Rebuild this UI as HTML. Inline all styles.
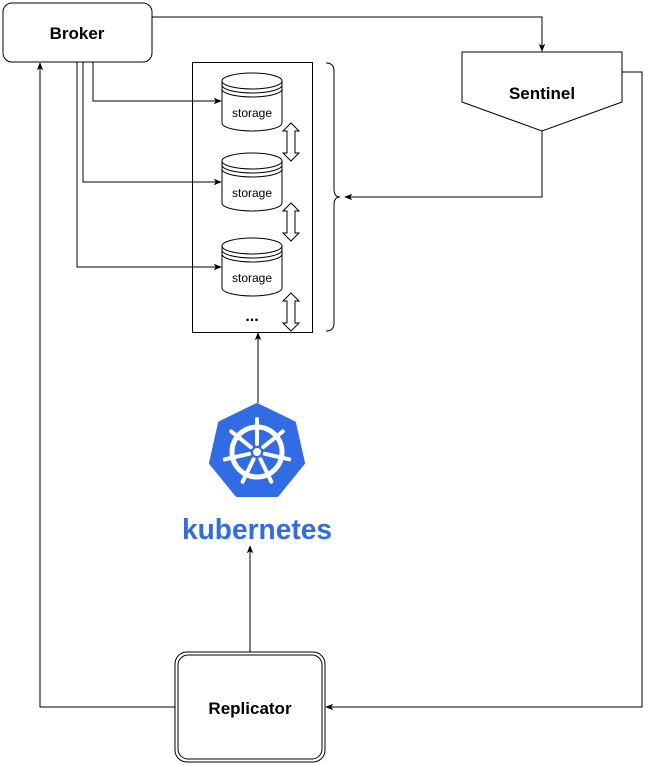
<!DOCTYPE html>
<html><head><style>body{margin:0;background:#fff}svg{display:block}</style></head><body>
<svg width="653" height="765" xmlns="http://www.w3.org/2000/svg" font-family="Liberation Sans, sans-serif">
<defs>
<marker id="a" viewBox="0 0 10 10" refX="9" refY="5" markerWidth="8" markerHeight="8" orient="auto"><path d="M0,1 L10,5 L0,9 L2.5,5 z" fill="#000"/></marker>
<g id="cyl">
<path d="M0,8 v42 a30,8 0 0 0 60,0 v-42" fill="#fff" stroke="#000"/>
<ellipse cx="30" cy="8" rx="30" ry="8" fill="#fff" stroke="#000"/>
<path d="M0,12 a30,8 0 0 0 60,0 M0,16 a30,8 0 0 0 60,0" fill="none" stroke="#000"/>
</g>
<path id="darr" d="M0,0 l8,8 h-4 v22 h4 l-8,8 l-8,-8 h4 v-22 h-4 z" fill="#fff" stroke="#000"/>
</defs>
<g fill="none" stroke="#000" stroke-width="1">
<rect x="3" y="3" width="149" height="59" rx="9" fill="#fff"/>
<path d="M462,52 H622 V102 L542,131 L462,102 Z" fill="#fff"/>
<path d="M152,17 H542 V51" marker-end="url(#a)"/>
<path d="M622,72 H642 V707 H326" marker-end="url(#a)"/>
<path d="M542,131 V197 H345" marker-end="url(#a)"/>
<path d="M93,62 V101 H221" marker-end="url(#a)"/>
<path d="M83,62 V182 H221" marker-end="url(#a)"/>
<path d="M77,62 V267 H221" marker-end="url(#a)"/>
<rect x="192.5" y="62.5" width="120" height="270"/>
<path d="M326,63 q8,0 8,8 v118 q0,8 6,8 q-6,0 -6,8 v118 q0,8 -8,8"/>
<path d="M258,403 V333" marker-end="url(#a)"/>
<path d="M250,652 V546" marker-end="url(#a)"/>
<path d="M175,707 H40 V63" marker-end="url(#a)"/>
<rect x="175" y="652" width="150" height="110" rx="12" fill="#fff"/>
<rect x="178" y="655" width="144" height="104" rx="10"/>
</g>
<use href="#cyl" x="222" y="73"/>
<use href="#cyl" x="222" y="153"/>
<use href="#cyl" x="222" y="238"/>
<use href="#darr" x="291" y="123"/>
<use href="#darr" x="291" y="203"/>
<use href="#darr" x="291" y="293"/>
<g font-size="12" text-anchor="middle" fill="#000">
<text x="252" y="117">storage</text>
<text x="252" y="197">storage</text>
<text x="252" y="282">storage</text>
</g>
<text x="252" y="321" font-size="16" font-weight="bold" text-anchor="middle">...</text>
<g font-size="17" font-weight="bold" text-anchor="middle">
<text x="77" y="39">Broker</text>
<text x="542" y="99">Sentinel</text>
<text x="250" y="714">Replicator</text>
</g>
<g transform="translate(257,452)">
<polygon points="0,-47 37,-29 46,11 20,43 -20,43 -46,11 -37,-29" fill="#326ce5" stroke="#326ce5" stroke-width="4" stroke-linejoin="round"/>
<circle r="25" fill="none" stroke="#fff" stroke-width="5"/>
<circle r="4" fill="#fff"/>
<g stroke="#fff" stroke-width="4" stroke-linecap="round">
<line x1="0" y1="-8" x2="0" y2="-33"/>
<line x1="0" y1="-8" x2="0" y2="-33" transform="rotate(51.4)"/>
<line x1="0" y1="-8" x2="0" y2="-33" transform="rotate(102.8)"/>
<line x1="0" y1="-8" x2="0" y2="-33" transform="rotate(154.3)"/>
<line x1="0" y1="-8" x2="0" y2="-33" transform="rotate(205.7)"/>
<line x1="0" y1="-8" x2="0" y2="-33" transform="rotate(257.1)"/>
<line x1="0" y1="-8" x2="0" y2="-33" transform="rotate(308.6)"/>
</g>
</g>
<text x="257" y="539" font-size="29" font-weight="bold" fill="#326ce5" text-anchor="middle" textLength="150" lengthAdjust="spacingAndGlyphs">kubernetes</text>
</svg>
</body></html>
